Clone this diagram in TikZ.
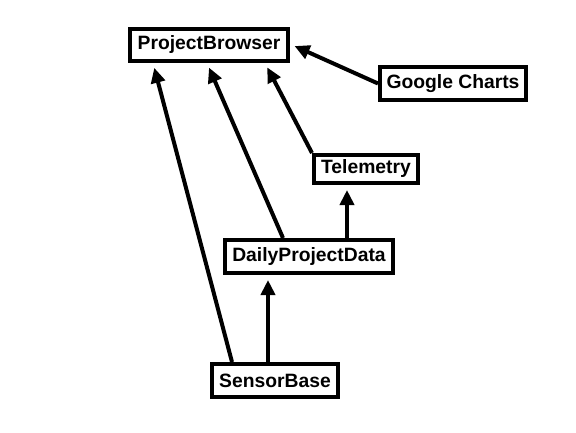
\documentclass[tikz,border=0pt]{standalone}
\usepackage{fontspec}
\setmainfont{Liberation Sans}
\usetikzlibrary{arrows.meta}
\begin{document}
\begin{tikzpicture}[x=1pt,y=-1pt,
  box/.style={draw=black,line width=4pt,fill=white,rectangle,inner sep=0pt,
    font=\fontsize{19.3}{22}\selectfont\bfseries},
  dep/.style={line width=4pt,-{Triangle[length=15pt,width=14pt]},shorten >=5pt}]
\useasboundingbox[fill=white] (0,0) rectangle (576,432);
\node[box,minimum width=158pt,minimum height=32pt] (pb) at (209,45) {ProjectBrowser};
\node[box,minimum width=146pt,minimum height=33pt] (gc) at (453,83.5) {Google Charts};
\node[box,minimum width=104pt,minimum height=28pt] (tel) at (366,169) {Telemetry};
\node[box,minimum width=168pt,minimum height=33pt] (dpd) at (309,256.5) {DailyProjectData};
\node[box,minimum width=126pt,minimum height=33pt] (sb) at (275,380.5) {SensorBase};
\draw[dep] (gc.west) -- ([yshift=1pt]pb.east);
\draw[dep] ([xshift=-43pt]sb.north) -- ([xshift=-56pt]pb.south);
\draw[dep] ([xshift=-26pt]dpd.north) -- ([xshift=-2pt]pb.south);
\draw[dep] (tel.north west) -- ([xshift=56pt]pb.south);
\draw[dep] ([xshift=38pt]dpd.north) -- ([xshift=-19pt]tel.south);
\draw[dep] ([xshift=-7pt]sb.north) -- ([xshift=-41pt]dpd.south);
\end{tikzpicture}
\end{document}
